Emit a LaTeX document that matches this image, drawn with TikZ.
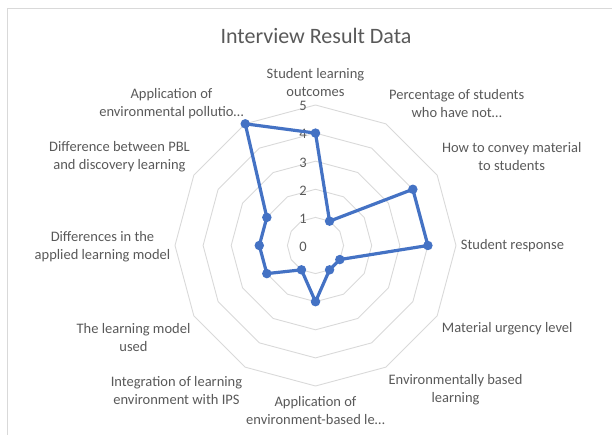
\documentclass[tikz,border=0pt]{standalone}
\usepackage{fontspec}
\setmainfont{Carlito}
\usetikzlibrary{positioning}
\definecolor{gridgray}{HTML}{D9D9D9}
\definecolor{textgray}{HTML}{595959}
\definecolor{seriesblue}{HTML}{4472C4}

\begin{document}
\begin{tikzpicture}[x=1pt, y=-1pt,
    gridline/.style={draw=gridgray, line width=0.9pt},
    axislabel/.style={text=textgray, font=\fontsize{14.5}{17.7}\selectfont,
	align=center, inner sep=0pt},
    ticklabel/.style={text=textgray, font=\fontsize{14.5}{17.7}\selectfont,
	anchor=east, inner sep=0pt},
    series/.style={draw=seriesblue, line width=3.2pt, line join=round},
    marker/.style={circle, fill=seriesblue, inner sep=0pt, minimum size=9.5pt}]
    \useasboundingbox (-315.5, -245.5) rectangle (296.5, 189.5);
    \clip (-315.5, -245.5) rectangle (296.5, 189.5);
    \draw[gridgray, line width=1pt] (-308, -236.5) rectangle (330, 230);

    \node[text=textgray, font=\fontsize{22}{26}\selectfont] (title)
	at (0.5, -209.5) {Interview Result Data};

    \foreach \r in {1, ..., 5}
	\draw[gridline] (-90:\r*28.1)
	\foreach \k in {1, ..., 11} { -- ({-90+30*\k}:{\r*28.1}) } -- cycle;

    \foreach \v in {0, ..., 5}
	\node[ticklabel] (tick\v) at (-8.5, {1.2-\v*28.1}) {\v};

    \node[axislabel] (outcomes) at (0, -163.2) {Student learning\\outcomes};
    \node[axislabel] (percentage) at (141.2, -141.7)
	{Percentage of students\\who have not\ldots};
    \node[axislabel] (convey) at (196.2, -89.2)
	{How to convey material\\to students};
    \node[axislabel, anchor=west] (response) at (145.2, 0.5) {Student response};
    \node[axislabel] (urgency) at (191.7, 83.5) {Material urgency level};
    \node[axislabel] (envbased) at (140, 144.5)
	{Environmentally based\\learning};
    \node[axislabel] (appenv) at (0, 164.7)
	{Application of\\environment-based le\ldots};
    \node[axislabel] (integration) at (-139, 144.8)
	{Integration of learning\\environment with IPS};
    \node[axislabel] (modelused) at (-182, 92) {The learning model\\used};
    \node[axislabel] (applied) at (-213, 1.5)
	{Differences in the\\applied learning model};
    \node[axislabel] (pbl) at (-196, -88.5)
	{Difference between PBL\\and discovery learning};
    \node[axislabel] (pollution) at (-144, -141.7)
	{Application of\\environmental pollutio\ldots};

    \foreach \v [count=\k from 0] in {4, 1, 4, 4, 1, 1, 2, 1, 2, 2, 2, 5}
	\coordinate (p\k) at ({-90+30*\k}:{\v*28.1});

    \draw[series] (p0) -- (p1) -- (p2) -- (p3) -- (p4) -- (p5) -- (p6)
	-- (p7) -- (p8) -- (p9) -- (p10) -- (p11) -- cycle;
    \foreach \k in {0, ..., 11}
	\node[marker] (m\k) at (p\k) {};
\end{tikzpicture}
\end{document}
